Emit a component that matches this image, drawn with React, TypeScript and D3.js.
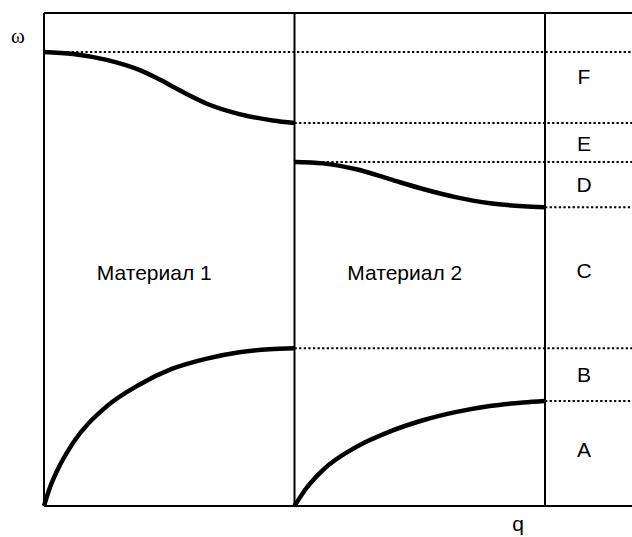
import React from "react";
import * as d3 from "d3";

// Dispersion branches ω(q), q normalised to [0, 1] within each material
const q1Lower = [0, 0.024, 0.05, 0.116, 0.25, 0.38, 0.51, 0.65, 0.78, 0.9, 1.0];
const w1Lower = [0, 0.038, 0.069, 0.128, 0.202, 0.246, 0.278, 0.299, 0.312, 0.318, 0.320];

const q1Upper = [0, 0.117, 0.25, 0.383, 0.45, 0.517, 0.583, 0.65, 0.78, 0.913, 1.0];
const w1Upper = [0.921, 0.917, 0.905, 0.884, 0.868, 0.850, 0.832, 0.816, 0.795, 0.782, 0.777];

const q2Lower = [0, 0.047, 0.113, 0.247, 0.38, 0.513, 0.647, 0.78, 0.913, 1.0];
const w2Lower = [0, 0.036, 0.073, 0.120, 0.151, 0.174, 0.191, 0.203, 0.210, 0.213];

const q2Upper = [0, 0.113, 0.247, 0.38, 0.513, 0.647, 0.78, 0.913, 1.0];
const w2Upper = [0.698, 0.695, 0.683, 0.663, 0.643, 0.626, 0.614, 0.608, 0.606];

// Band edges (ω) and the q where each dotted line starts
const edgeOmega = [0.921, 0.777, 0.698, 0.606, 0.320, 0.213];
const edgeStartQ = [0, 1, 1, 2, 1, 2];

// Band names on the right and their ω positions
const bandNames = ["F", "E", "D", "C", "B", "A"];
const bandOmega = [0.872, 0.736, 0.653, 0.477, 0.266, 0.114];

const materialNames = ["Материал 1", "Материал 2"];

const W = 632;
const H = 537;

export default function App() {
  const x = d3.scaleLinear().domain([0, 2]).range([44, 545]);
  const y = d3.scaleLinear().domain([0, 1]).range([506, 13]);

  const line = d3
    .line<[number, number]>()
    .x((d) => x(d[0]))
    .y((d) => y(d[1]))
    .curve(d3.curveMonotoneX);

  const branches: [number, number][][] = [
    q1Lower.map((q, i) => [q, w1Lower[i]]),
    q1Upper.map((q, i) => [q, w1Upper[i]]),
    q2Lower.map((q, i) => [1 + q, w2Lower[i]]),
    q2Upper.map((q, i) => [1 + q, w2Upper[i]]),
  ];

  const font = "'Liberation Sans', Arial, sans-serif";

  return (
    <svg
      width={W}
      height={H}
      style={{ position: "absolute", left: 0, top: 0, background: "#fff" }}
    >
      {/* dotted band edges */}
      {edgeOmega.map((w, i) => (
        <line
          key={"e" + i}
          x1={x(edgeStartQ[i])}
          x2={W}
          y1={y(w)}
          y2={y(w)}
          stroke="#000"
          strokeWidth={2}
          strokeDasharray="2.3 2.3"
        />
      ))}

      {/* frame */}
      <line x1={x(0)} x2={W} y1={y(1)} y2={y(1)} stroke="#000" strokeWidth={2} />
      <line x1={x(0)} x2={W} y1={y(0)} y2={y(0)} stroke="#000" strokeWidth={2} />
      {[0, 1, 2].map((q) => (
        <line key={"v" + q} x1={x(q)} x2={x(q)} y1={y(1)} y2={y(0)} stroke="#000" strokeWidth={2} />
      ))}

      {/* dispersion branches */}
      {branches.map((pts, i) => (
        <path key={"b" + i} d={line(pts) ?? ""} fill="none" stroke="#000" strokeWidth={4.5} />
      ))}

      {/* material names */}
      {materialNames.map((m, i) => (
        <text
          key={m}
          x={(x(i) + x(i + 1)) / 2 - 15}
          y={280}
          textAnchor="middle"
          fontFamily={font}
          fontSize={21}
          fill="#000"
        >
          {m}
        </text>
      ))}

      {/* band names */}
      {bandNames.map((b, i) => (
        <text
          key={b}
          x={584}
          y={y(bandOmega[i])}
          dy="0.36em"
          textAnchor="middle"
          fontFamily={font}
          fontSize={21}
          fill="#000"
        >
          {b}
        </text>
      ))}

      {/* axis names */}
      <text x={18} y={37} dy="0.3em" textAnchor="middle" fontFamily="'Liberation Serif', 'Times New Roman', serif" fontSize={21} fill="#000">
        ω
      </text>
      <text x={518} y={531} textAnchor="middle" fontFamily={font} fontSize={21} fill="#000">
        q
      </text>
    </svg>
  );
}
